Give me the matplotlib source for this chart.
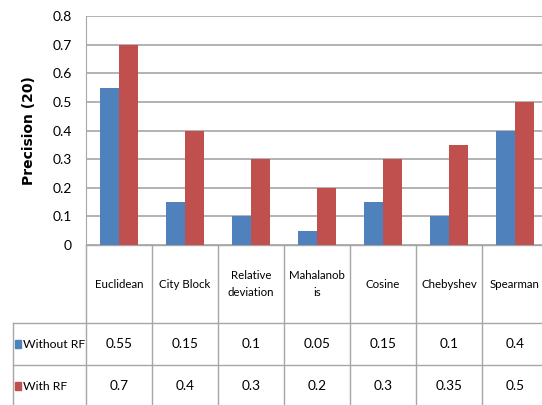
#!/usr/bin/env python3
# precision_rf.py – precision@20 per distance measure, with / without RF,
# Excel-style clustered columns with a data table underneath
import matplotlib as mpl

mpl.use("Agg")
import matplotlib.pyplot as plt
from matplotlib.patches import Rectangle
from matplotlib.transforms import blended_transform_factory

mpl.rcParams["font.family"] = ["Lato", "DejaVu Sans"]

# ─── data ────────────────────────────────────────────────────────────
categories = ["Euclidean", "City Block", "Relative\ndeviation", "Mahalanob\nis",
              "Cosine", "Chebyshev", "Spearman"]
without_rf = [0.55, 0.15, 0.1, 0.05, 0.15, 0.1, 0.4]
with_rf = [0.7, 0.4, 0.3, 0.2, 0.3, 0.35, 0.5]
series_names = ["Without RF", "With RF"]
yticks = [0, 0.1, 0.2, 0.3, 0.4, 0.5, 0.6, 0.7, 0.8]

BLUE = "#4F81BD"
RED = "#C0504D"
GRID = "#A6A6A6"
FS = 8.3

W, H = 542, 405
fig = plt.figure(figsize=(W / 100, H / 100), dpi=100)

# plot area in pixels: left 86, top 16, bottom 245, category width ~66
cat_w = 66.0
n = len(categories)
ax = fig.add_axes([86 / W, (H - 245) / H, n * cat_w / W, (245 - 16) / H])

x = [i + 0.5 for i in range(n)]
bw = 0.29
ax.bar([c - bw / 2 for c in x], without_rf, width=bw, color=BLUE, zorder=3)
ax.bar([c + bw / 2 for c in x], with_rf, width=bw, color=RED, zorder=3)

ax.set_xlim(0, n)
ax.set_ylim(0, 0.8)
ax.set_yticks(yticks)
ax.set_yticklabels([f"{v:g}" for v in yticks], fontsize=10)
ax.set_xticks([])
ax.tick_params(axis="y", length=0, pad=10)
ax.yaxis.grid(True, color=GRID, linewidth=1.2, zorder=0)
for s in ["top", "right", "bottom"]:
    ax.spines[s].set_visible(False)
ax.spines["left"].set_color(GRID)

fig.text(29 / W, 1 - 131 / H, "Precision (20)", rotation=90, ha="center",
         va="center", fontsize=10, fontweight="bold", family="DejaVu Sans")

# ─── data table below the plot ───────────────────────────────────────
tr = blended_transform_factory(ax.transData, fig.transFigure)


def fy(py):
    return 1 - py / H


left_col = -(86 - 13) / cat_w
line_kw = dict(color=GRID, linewidth=1.0, transform=tr, clip_on=False)

# horizontal rules
ax.plot([0, n], [fy(245), fy(245)], **line_kw)
ax.plot([left_col, n], [fy(323), fy(323)], **line_kw)
ax.plot([left_col, n], [fy(365), fy(365)], **line_kw)
# vertical rules
for i in range(n + 1):
    ax.plot([i, i], [fy(245), fy(H)], **line_kw)
ax.plot([left_col, left_col], [fy(323), fy(H)], **line_kw)

# header row
for c, name in zip(x, categories):
    ax.text(c, fy(284), name, ha="center", va="center", fontsize=FS,
            linespacing=1.7, transform=tr, clip_on=False)

# value rows with legend keys
rows = [(without_rf, BLUE, 344), (with_rf, RED, 386)]
for (vals, col, py), label in zip(rows, series_names):
    key_x = left_col + 2 / cat_w
    ax.add_patch(Rectangle((key_x, fy(py + 4)), 6 / cat_w, 8 / H, color=col,
                           transform=tr, clip_on=False))
    ax.text(key_x + 8 / cat_w, fy(py), label, ha="left", va="center",
            fontsize=FS + 0.5, transform=tr, clip_on=False)
    for c, v in zip(x, vals):
        ax.text(c, fy(py), f"{v:g}", ha="center", va="center", fontsize=FS + 1.5,
                transform=tr, clip_on=False)

fig.savefig("out.png", dpi=100)
